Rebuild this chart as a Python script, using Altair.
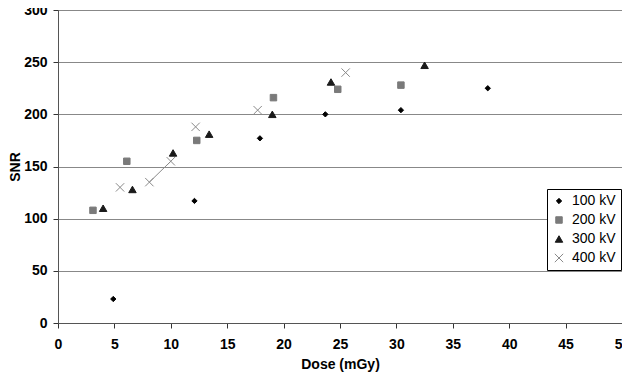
import altair as alt
import pandas as pd

series_names = ["100 kV", "200 kV", "300 kV", "400 kV"]

dose_100 = [4.9, 12.1, 17.9, 23.7, 30.4, 38.1]
snr_100 = [23, 117, 177, 200, 204, 225]

dose_200 = [3.1, 6.1, 12.3, 19.1, 24.8, 30.4]
snr_200 = [108, 155, 175, 216, 224, 228]

dose_300 = [4.0, 6.6, 10.2, 13.4, 19.0, 24.2, 32.5]
snr_300 = [110, 128, 163, 181, 200, 231, 247]

dose_400 = [5.5, 8.1, 10.0, 12.2, 17.7, 25.5]
snr_400 = [130, 135, 155, 188, 204, 240]
# which 400 kV points are joined by a line segment in the original
seg_400 = [0, 1, 1, 0, 0, 0]

rows = []
for name, xs, ys in [("100 kV", dose_100, snr_100), ("200 kV", dose_200, snr_200),
                     ("300 kV", dose_300, snr_300), ("400 kV", dose_400, snr_400)]:
    for i, (x, y) in enumerate(zip(xs, ys)):
        seg = seg_400[i] if name == "400 kV" else 0
        rows.append({"Dose": x, "SNR": y, "series": name, "seg": seg})
df = pd.DataFrame(rows)

colors = ["#000000", "#7a7a7a", "#1a1a1a", "#8a8a8a"]
shapes = ["diamond", "square", "triangle-up", "M-1,-1L1,1M-1,1L1,-1"]
sizes = [28, 70, 42, 26]

font = "Liberation Sans"

x_enc = alt.X("Dose:Q", title="Dose (mGy)",
              scale=alt.Scale(domain=[0, 50], nice=False),
              axis=alt.Axis(values=list(range(0, 51, 5)), grid=False, tickSize=5,
                            labelPadding=9, titlePadding=6, labelFontSize=14,
                            labelFontWeight="bold", titleFontSize=14, titleFontWeight="bold",
                            domainColor="#555555", tickColor="#333333", labelColor="#000000",
                            titleColor="#000000", labelFont=font, titleFont=font,
                            labelFlush=False))
y_enc = alt.Y("SNR:Q", title="SNR",
              scale=alt.Scale(domain=[0, 300], nice=False),
              axis=alt.Axis(values=list(range(0, 301, 50)), grid=True, gridColor="#888888",
                            gridWidth=1, tickSize=5, labelPadding=6, titlePadding=1,
                            labelFontSize=14, labelFontWeight="bold", titleFontSize=14,
                            titleFontWeight="bold", domainColor="#555555", tickColor="#333333",
                            labelColor="#000000", titleColor="#000000", labelFont=font,
                            titleFont=font))

points = alt.Chart(df).mark_point(opacity=1, strokeWidth=1).encode(
    x=x_enc,
    y=y_enc,
    shape=alt.Shape("series:N", scale=alt.Scale(domain=series_names, range=shapes),
                    title=None),
    fill=alt.Fill("series:N", scale=alt.Scale(domain=series_names, range=colors), title=None),
    stroke=alt.Stroke("series:N", scale=alt.Scale(domain=series_names, range=colors),
                      title=None),
    size=alt.Size("series:N", scale=alt.Scale(domain=series_names, range=sizes), title=None),
)

seg_line = alt.Chart(df[df["seg"] == 1]).mark_line(color="#8a8a8a", strokeWidth=1).encode(
    x="Dose:Q", y="SNR:Q"
)

chart = alt.layer(seg_line, points).properties(
    width=564, height=313,
    autosize=alt.AutoSizeParams(type="none"),
    padding={"left": 50, "top": 2, "right": 0, "bottom": 50},
    background="white",
).configure_view(
    stroke="#888888", strokeWidth=1
).configure_legend(
    orient="none", legendX=489, legendY=179,
    strokeColor="#000000", fillColor="#ffffff", padding=5,
    labelFontSize=14, labelFont=font, labelColor="#000000",
    rowPadding=5, symbolStrokeWidth=1, labelOffset=6,
)

chart.save("out.html", embed_options={"renderer": "svg", "actions": False})
